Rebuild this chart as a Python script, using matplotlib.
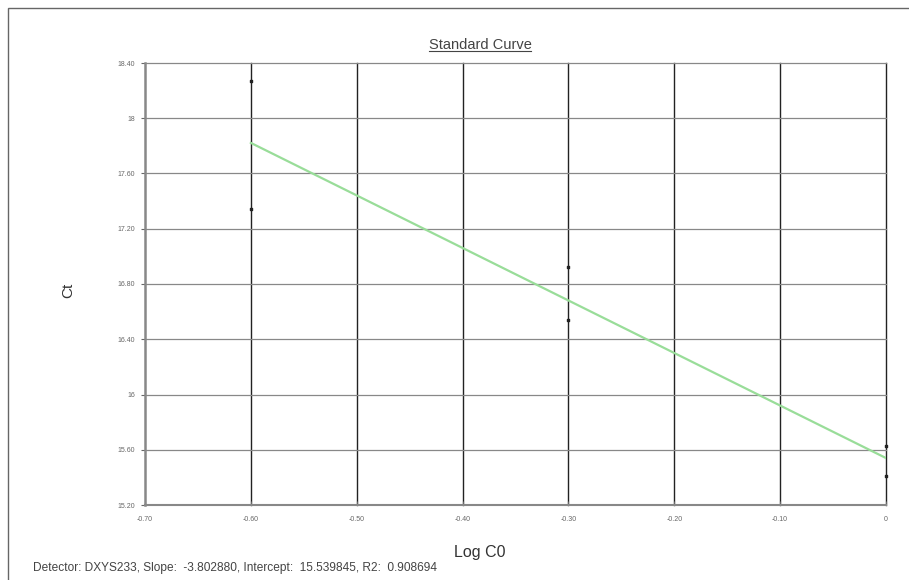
import matplotlib
matplotlib.use("Agg")
import matplotlib.pyplot as plt
from matplotlib.patches import Rectangle
from matplotlib.lines import Line2D
import numpy as np

plt.rcParams['font.family'] = ['Liberation Sans', 'DejaVu Sans']

# Data
log_c0 = [-0.60, -0.60, -0.30, -0.30, 0.0, 0.0]
ct = [18.27, 17.34, 16.92, 16.54, 15.63, 15.41]
slope = -3.802880
intercept = 15.539845
r2 = 0.908694
fit_x = [-0.60, 0.0]
x_ticks = [-0.70, -0.60, -0.50, -0.40, -0.30, -0.20, -0.10, 0.0]
x_labels = ["-0.70", "-0.60", "-0.50", "-0.40", "-0.30", "-0.20", "-0.10", "0"]
y_ticks = [15.20, 15.60, 16.00, 16.40, 16.80, 17.20, 17.60, 18.00, 18.40]
y_labels = ["15.20", "15.60", "16", "16.40", "16.80", "17.20", "17.60", "18", "18.40"]

fig = plt.figure(figsize=(9.09, 5.80), dpi=100)
ax = fig.add_axes([145/909, 1-505/580, (886-145)/909, (505-63)/580])

ax.set_xlim(-0.70, 0.0)
ax.set_ylim(15.20, 18.40)
ax.set_xticks(x_ticks)
ax.set_xticklabels(x_labels)
ax.set_yticks(y_ticks)
ax.set_yticklabels(y_labels)
ax.tick_params(axis='both', labelsize=5, colors='#666666', length=3, width=0.8)
ax.tick_params(axis='x', direction='in', pad=8)
ax.tick_params(axis='y', direction='out', pad=4)

for x in x_ticks[1:]:
    ax.axvline(x, color='#222222', lw=1.0, zorder=1, clip_on=False)
for y in y_ticks[1:]:
    ax.axhline(y, color='#888888', lw=0.9, zorder=1, clip_on=False)

for s in ['top', 'right']:
    ax.spines[s].set_visible(False)
ax.spines['left'].set_color('#888888')
ax.spines['left'].set_linewidth(1.8)
ax.spines['bottom'].set_color('#888888')
ax.spines['bottom'].set_linewidth(1.5)

fx = np.array(fit_x)
ax.plot(fx, slope*fx + intercept, color='#99dd99', lw=1.6, zorder=2)
ax.scatter(log_c0, ct, s=3, marker='s', color='#222222', zorder=3, clip_on=False)

fig.text(480/909, 1-553/580, "Log C0", fontsize=11.5, color='#333333', ha='center', va='center')
fig.text(68/909, 1-290/580, "Ct", fontsize=11, color='#333333', ha='center', va='center',
         rotation=90)

t = fig.text(480/909, 1-45/580, "Standard Curve", fontsize=10.5, color='#444444',
             ha='center', va='center')
fig.canvas.draw()
bb = t.get_window_extent(renderer=fig.canvas.get_renderer())
fig.add_artist(Line2D([bb.x0/fig.bbox.width, bb.x1/fig.bbox.width],
                      [(bb.y0+1)/fig.bbox.height]*2, color='#444444', lw=0.8))

fig.text(33/909, 1-568/580,
         "Detector: DXYS233, Slope:  %.6f, Intercept:  %.6f, R2:  %.6f" % (slope, intercept, r2),
         fontsize=8.6, color='#444444', ha='left', va='center')

fig.add_artist(Rectangle((8/909, -0.05), (909-8)/909 + 0.05, 1 - 8/580 + 0.05,
                         transform=fig.transFigure, fill=False, edgecolor='#666666', lw=1.0))

fig.savefig("out.png", dpi=100)
